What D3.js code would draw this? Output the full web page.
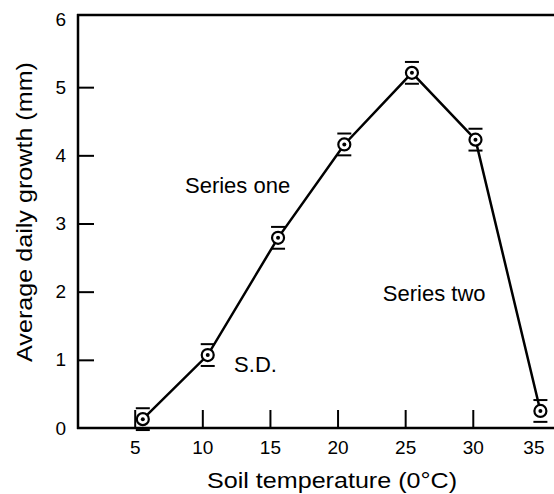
<!DOCTYPE html>
<html><head><meta charset="utf-8">
<script src="https://cdn.jsdelivr.net/npm/d3@7"></script>
<style>
html,body{margin:0;padding:0;background:#fff;}
svg{display:block;font-family:"Liberation Sans",Arial,Helvetica,sans-serif;}
</style></head>
<body>
<svg id="chart" width="554" height="494"></svg>
<script>
const temperatures = [5.6, 10.4, 15.6, 20.5, 25.5, 30.2, 35.0];
const growth = [0.13, 1.07, 2.79, 4.16, 5.21, 4.23, 0.25];
const sdev = [0.16, 0.16, 0.16, 0.16, 0.16, 0.16, 0.16];
const xTicks = [5, 10, 15, 20, 25, 30, 35];
const yTicks = [0, 1, 2, 3, 4, 5, 6];
const annotations = [
  {text: "Series one", x: 8.72, y: 3.45},
  {text: "Series two", x: 23.35, y: 1.87},
  {text: "S.D.", x: 12.35, y: 0.82}
];

const svg = d3.select("#chart");
const W = 554, H = 494;
const axisX = 78, axisY = 428, topY = 15;

const x = d3.scaleLinear().domain([5, 35]).range([134.7, 540.4]);
const y = d3.scaleLinear().domain([0, 6]).range([428, 19]);

// frame: left axis, bottom axis, top border
svg.append("line").attr("x1", axisX).attr("x2", axisX).attr("y1", topY - 1).attr("y2", axisY + 1)
  .attr("stroke", "#000").attr("stroke-width", 2.5);
svg.append("line").attr("x1", axisX - 1).attr("x2", W).attr("y1", axisY).attr("y2", axisY)
  .attr("stroke", "#000").attr("stroke-width", 2.5);
svg.append("line").attr("x1", axisX - 1).attr("x2", W).attr("y1", topY).attr("y2", topY)
  .attr("stroke", "#000").attr("stroke-width", 2.5);

// y axis
const yAxis = d3.axisRight(y).tickValues(yTicks).tickSize(16).tickFormat(d3.format("d"));
const gy = svg.append("g").attr("transform", `translate(${axisX},0)`).call(yAxis);
gy.select(".domain").remove();
gy.selectAll(".tick line").attr("stroke", "#000").attr("stroke-width", 2)
  .style("display", d => (d === 0 || d === 6) ? "none" : null);
gy.selectAll(".tick text").attr("x", -12).attr("text-anchor", "end")
  .attr("font-size", 19).attr("fill", "#000").attr("font-family", "Liberation Sans, Arial, sans-serif");

// x axis
const xAxis = d3.axisTop(x).tickValues(xTicks).tickSize(18).tickFormat(d3.format("d"));
const gx = svg.append("g").attr("transform", `translate(0,${axisY})`).call(xAxis);
gx.select(".domain").remove();
gx.selectAll(".tick line").attr("stroke", "#000").attr("stroke-width", 2)
  .style("display", d => d === 35 ? "none" : null);
gx.selectAll(".tick text").attr("y", 26).attr("dy", 0)
  .attr("dx", d => d === 35 ? -7 : 0)
  .attr("font-size", 19).attr("fill", "#000").attr("font-family", "Liberation Sans, Arial, sans-serif");

// axis titles
svg.append("text").attr("x", 332).attr("y", 488).attr("text-anchor", "middle")
  .attr("font-size", 22).attr("textLength", 250).attr("lengthAdjust", "spacingAndGlyphs")
  .text("Soil temperature (0°C)");
svg.append("text").attr("transform", "translate(32,212) rotate(-90)").attr("text-anchor", "middle")
  .attr("font-size", 22).attr("textLength", 300).attr("lengthAdjust", "spacingAndGlyphs")
  .text("Average daily growth (mm)");

// data
const pts = temperatures.map((t, i) => ({t, g: growth[i], s: sdev[i]}));
svg.append("path").datum(pts)
  .attr("d", d3.line().x(d => x(d.t)).y(d => y(d.g)))
  .attr("fill", "none").attr("stroke", "#000").attr("stroke-width", 2.5);

const m = svg.append("g").selectAll("g").data(pts).join("g")
  .attr("transform", d => `translate(${x(d.t)},${y(d.g)})`);
m.append("line").attr("x1", -7).attr("x2", 7)
  .attr("y1", d => y(d.g + d.s) - y(d.g)).attr("y2", d => y(d.g + d.s) - y(d.g))
  .attr("stroke", "#000").attr("stroke-width", 2);
m.append("line").attr("x1", -7).attr("x2", 7)
  .attr("y1", d => y(d.g - d.s) - y(d.g)).attr("y2", d => y(d.g - d.s) - y(d.g))
  .attr("stroke", "#000").attr("stroke-width", 2);
m.append("circle").attr("r", 6).attr("fill", "#fff").attr("stroke", "#000").attr("stroke-width", 2.2);
m.append("circle").attr("r", 2).attr("fill", "#000");

// annotations
svg.append("g").selectAll("text").data(annotations).join("text")
  .attr("x", d => x(d.x)).attr("y", d => y(d.y))
  .attr("font-size", 22).attr("fill", "#000")
  .text(d => d.text);
</script>
</body></html>
